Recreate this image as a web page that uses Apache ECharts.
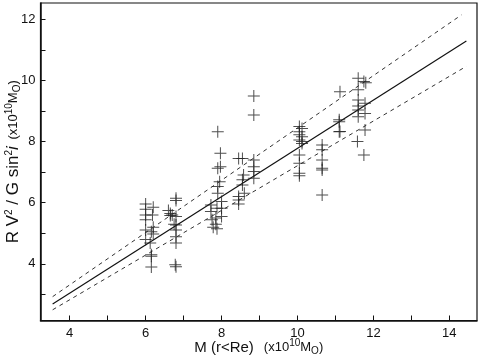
<!DOCTYPE html>
<html>
<head>
<meta charset="utf-8">
<script src="https://cdn.jsdelivr.net/npm/echarts@6/dist/echarts.min.js"></script>
<style>
  html, body { margin: 0; padding: 0; background: #fff; }
  #chart { width: 480px; height: 360px; }
</style>
</head>
<body>
<div id="chart"></div>
<script>
// measured points: mass inside Re vs virial estimate
const massX = [
  6.0, 6.0, 6.0, 6.0, 6.0, 6.0,
  6.2, 6.18, 6.2, 6.15, 6.2, 6.12, 6.15, 6.15, 6.15,
  6.6, 6.65, 6.7, 6.65,
  6.8, 6.8, 6.8, 6.75, 6.8, 6.8, 6.8, 6.8, 6.78, 6.8,
  7.72, 7.72, 7.75, 7.78,
  7.85, 7.85, 7.88,
  7.9, 7.9, 7.9, 7.9, 7.88,
  7.97, 7.97, 7.95, 8.0, 8.0, 8.0,
  8.45, 8.45, 8.45, 8.45,
  8.55, 8.58, 8.55, 8.55, 8.6,
  8.85, 8.85, 8.85, 8.85, 8.85, 8.85,
  10.05, 10.05, 10.05, 10.05, 10.05, 10.05, 10.05, 10.05,
  10.12, 10.12, 10.12, 10.12,
  10.65, 10.65, 10.65, 10.65, 10.65, 10.65,
  11.12, 11.1, 11.1, 11.1, 11.12,
  11.6, 11.6, 11.6, 11.6, 11.6, 11.6, 11.58,
  11.75, 11.8, 11.78, 11.78, 11.78, 11.75
]
const virialY = [
  5.96, 5.79, 5.6, 5.44, 5.11, 4.8,
  5.85, 5.6, 5.2, 5.05, 4.98, 4.68, 4.3, 4.25, 3.9,
  5.75, 5.65, 5.6, 5.58,
  6.15, 6.07, 5.55, 5.3, 5.27, 5.11, 4.89, 4.68, 3.97, 3.91,
  5.93, 5.71, 5.44, 5.2,
  5.5, 5.3, 5.15,
  8.32, 7.13, 6.53, 6.31, 5.82,
  7.62, 7.18, 6.69, 6.04, 5.82, 5.55,
  7.45, 6.09, 5.96, 6.2,
  7.45, 6.91, 6.75, 6.58, 6.31,
  9.49, 8.87, 7.4, 7.18, 7.02, 6.8,
  8.49, 8.32, 8.22, 8.05, 7.56, 7.29, 6.96, 6.88,
  8.43, 8.16, 8.0, 7.94,
  7.89, 7.73, 7.4, 7.13, 7.07, 6.25,
  9.63, 8.71, 8.65, 8.32, 8.33,
  10.07, 9.69, 9.36, 9.16, 9.03, 8.81, 8.0,
  9.96, 9.92, 9.25, 8.92, 8.38, 7.56
]

// fit line and its scatter band
const fitX = [3.55, 14.45]
const fitY = [2.69, 11.29]
const upperX = [3.55, 14.32]
const upperY = [2.93, 12.14]
const lowerX = [3.55, 14.45]
const lowerY = [2.5, 10.46]

const xTicks = [4, 5, 6, 7, 8, 9, 10, 11, 12, 13, 14]
const xLabels = [4, 6, 8, 10, 12, 14]
const yTicks = [3, 4, 5, 6, 7, 8, 9, 10, 11, 12]
const yLabels = [4, 6, 8, 10, 12]

const zip = ( a, b ) => a.map( ( v, i ) => [ v, b[i] ] )

const plus = 'path://M0,5.5H12V6.5H0Z M5.5,0H6.5V12H5.5Z'
const font = 'Liberation Sans, Arial, Helvetica, sans-serif'

const makeRich = mainSize => ( {
  a : { fontSize : mainSize, lineHeight : 18, fontFamily : font, color : '#111' },
  b : { fontSize : 13, lineHeight : 18, fontFamily : font, color : '#111' },
  it : { fontSize : mainSize, lineHeight : 18, fontFamily : font, fontStyle : 'italic', color : '#111' },
  sup : { fontSize : 10, lineHeight : 18, fontFamily : font, color : '#111', verticalAlign : 'top' },
  sub : { fontSize : 10, lineHeight : 18, fontFamily : font, color : '#111', verticalAlign : 'bottom' }
} )

const chart = echarts.init( document.getElementById( 'chart' ) )

chart.setOption( {
  animation : false,
  grid : {
    left : 40.5,
    right : 3,
    top : 3,
    bottom : 39.5,
    outerBoundsMode : 'none',
    containLabel : false,
    show : true,
    borderColor : '#111',
    borderWidth : 1.2
  },
  xAxis : {
    type : 'value',
    min : 3.23,
    max : 14.73,
    splitLine : { show : false },
    axisLine : { show : true, lineStyle : { color : '#111', width : 1.5 }},
    axisTick : { inside : true, length : 5, customValues : xTicks, lineStyle : { color : '#111' }},
    axisLabel : { customValues : xLabels, fontSize : 13, fontFamily : font, color : '#111', margin : 6 },
    name : '{a|M (r<Re)}   {b|(x10}{sup|10}{b|M}{sub|O}{b|)}',
    nameLocation : 'middle',
    nameGap : 18,
    nameMoveOverlap : false,
    nameTextStyle : { rich : makeRich( 15 ) }
  },
  yAxis : {
    type : 'value',
    min : 2.15,
    max : 12.53,
    splitLine : { show : false },
    axisLine : { show : true, lineStyle : { color : '#111', width : 1.5 }},
    axisTick : { inside : true, length : 5, customValues : yTicks, lineStyle : { color : '#111' }},
    axisLabel : { customValues : yLabels, fontSize : 13, fontFamily : font, color : '#111', margin : 5 },
    name : '{a|R V}{sup|2}{a| / G sin}{sup|2}{it|i}  {b|(x10}{sup|10}{b|M}{sub|O}{b|)}',
    nameLocation : 'middle',
    nameGap : 18,
    nameMoveOverlap : false,
    nameTextStyle : { rich : makeRich( 17 ) }
  },
  series : [
    {
      type : 'scatter',
      data : zip( massX, virialY ),
      symbol : plus,
      symbolSize : 12,
      itemStyle : { color : '#222' },
      z : 3
    },
    {
      type : 'line',
      data : zip( fitX, fitY ),
      symbol : 'none',
      lineStyle : { color : '#111', width : 1.2 }
    },
    {
      type : 'line',
      data : zip( upperX, upperY ),
      symbol : 'none',
      lineStyle : { color : '#333', width : 1, type : [ 4, 4 ] }
    },
    {
      type : 'line',
      data : zip( lowerX, lowerY ),
      symbol : 'none',
      lineStyle : { color : '#333', width : 1, type : [ 4, 4 ] }
    }
  ]
} )
</script>
</body>
</html>
